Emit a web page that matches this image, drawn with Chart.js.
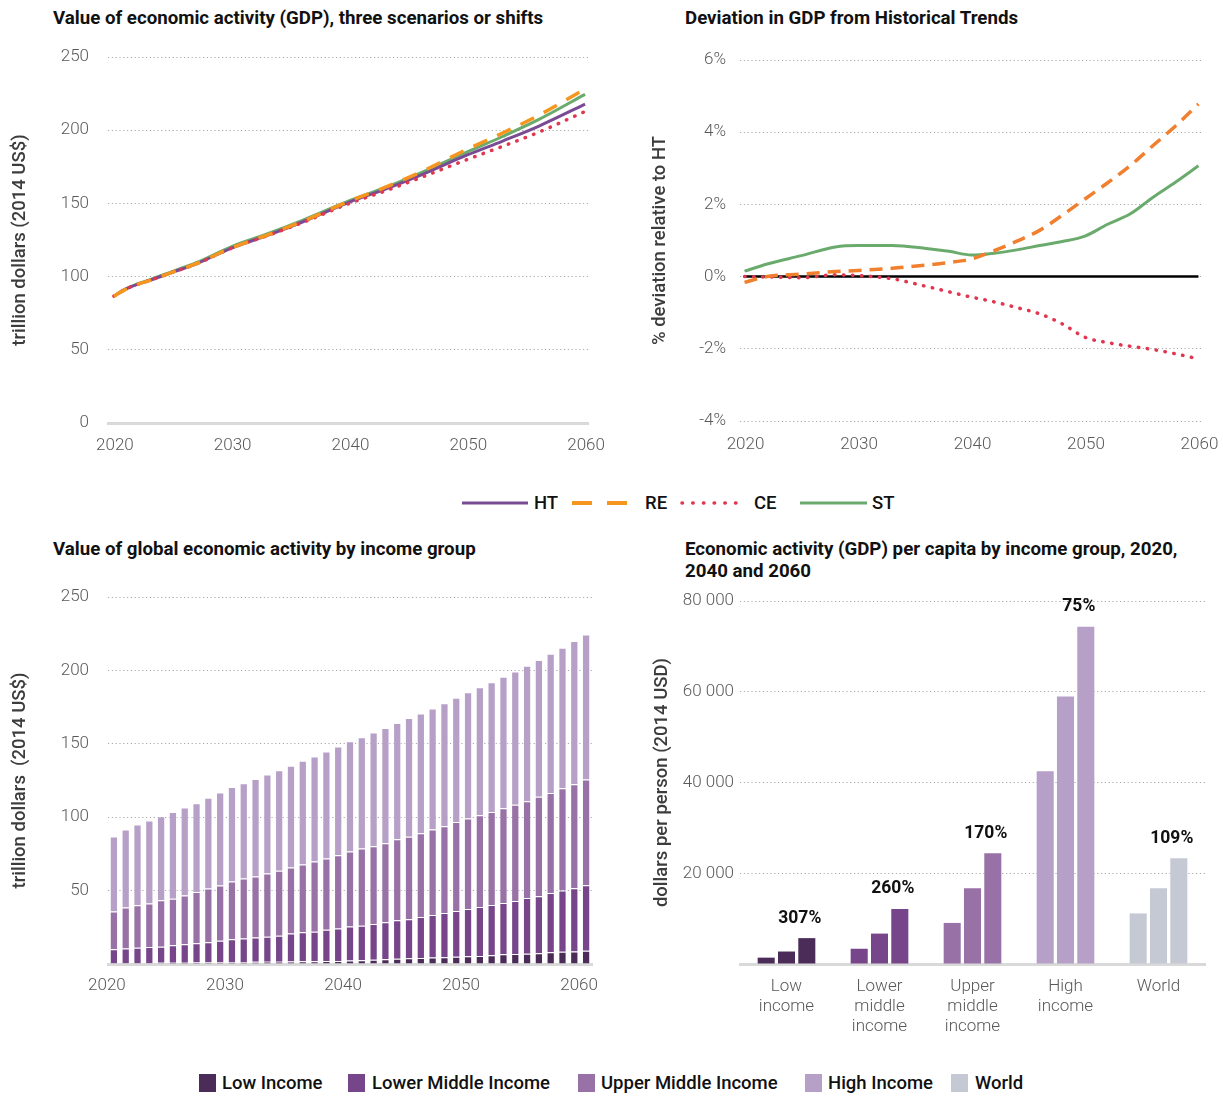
<!DOCTYPE html>
<html><head><meta charset="utf-8">
<script src="https://cdn.jsdelivr.net/npm/chart.js@4.4.1/dist/chart.umd.min.js"></script>
<style>
body{margin:0;width:1223px;height:1097px;background:#fff;position:relative;overflow:hidden;font-family:Roboto,"Noto Sans",sans-serif}
.box{position:absolute}
.title{position:absolute;font-weight:700;font-size:18.7px;line-height:22px;color:#111;white-space:nowrap}
.leg{position:absolute;font-size:18.5px;font-weight:500;color:#111;white-space:nowrap;line-height:20px}
.sq{position:absolute;width:17px;height:18px}
</style></head>
<body>
<div class="title" style="left:53px;top:7px">Value of economic activity (GDP), three scenarios or shifts</div>
<div class="title" style="left:685px;top:7px">Deviation in GDP from Historical Trends</div>
<div class="title" style="left:53px;top:538px">Value of global economic activity by income group</div>
<div class="title" style="left:685px;top:538px">Economic activity (GDP) per capita by income group, 2020,<br>2040 and 2060</div>

<div class="box" style="left:0;top:31px;width:610px;height:440px"><canvas id="c1" width="610" height="440"></canvas></div>
<div class="box" style="left:630px;top:30px;width:593px;height:440px"><canvas id="c2" width="593" height="440"></canvas></div>
<div class="box" style="left:0;top:576px;width:610px;height:440px"><canvas id="c3" width="610" height="440"></canvas></div>
<div class="box" style="left:630px;top:580px;width:593px;height:470px"><canvas id="c4" width="593" height="470"></canvas></div>

<svg class="box" style="left:0;top:490px" width="1223" height="26">
  <line x1="462" y1="13" x2="528" y2="13" stroke="#7a4b95" stroke-width="3"/>
  <line x1="572" y1="13" x2="628" y2="13" stroke="#f7961f" stroke-width="4" stroke-dasharray="20 15"/>
  <line x1="682" y1="13" x2="746" y2="13" stroke="#e0364f" stroke-width="3.5" stroke-dasharray="0.5 10.2" stroke-linecap="round"/>
  <line x1="800" y1="13" x2="867" y2="13" stroke="#6aab6d" stroke-width="3"/>
</svg>
<div class="leg" style="left:534px;top:493px">HT</div>
<div class="leg" style="left:645px;top:493px">RE</div>
<div class="leg" style="left:754px;top:493px">CE</div>
<div class="leg" style="left:872px;top:493px">ST</div>

<div class="sq" style="left:199px;top:1074px;background:#4b2c58"></div><div class="leg" style="left:222px;top:1073px">Low Income</div>
<div class="sq" style="left:348px;top:1074px;background:#76458a"></div><div class="leg" style="left:372px;top:1073px">Lower Middle Income</div>
<div class="sq" style="left:578px;top:1074px;background:#9872a6"></div><div class="leg" style="left:601px;top:1073px">Upper Middle Income</div>
<div class="sq" style="left:805px;top:1074px;background:#b7a0c7"></div><div class="leg" style="left:828px;top:1073px">High Income</div>
<div class="sq" style="left:951px;top:1074px;background:#c5c9d3"></div><div class="leg" style="left:975px;top:1073px">World</div>

<script>
// ---------- Panel 1: GDP by scenario (trillion 2014 US$) ----------
const lineYears = [2020,2021,2022,2023,2025,2027,2030,2033,2036,2040,2043,2046,2050,2053,2056,2060];
const gdpHT = [86.7,91.4,94.7,97.3,103.0,108.7,119.5,128.0,137.3,150.9,159.6,169.2,183.1,192.6,202.5,217.8];
const gdpRE = [86.6,91.3,94.7,97.3,103.1,108.8,119.7,128.3,137.7,151.6,160.9,171.2,187.0,198.1,209.9,228.2];
const gdpCE = [86.7,91.4,94.7,97.3,103.0,108.7,119.5,127.9,136.9,150.0,158.4,167.5,180.0,189.0,198.4,212.8];
const gdpST = [86.8,91.6,95.0,97.7,103.6,109.5,120.5,129.1,138.4,151.8,160.7,170.7,185.2,195.7,207.0,224.5];
const gdpTicks = [0,50,100,150,200,250];
const yearTicks = [2020,2030,2040,2050,2060];

// ---------- Panel 2: deviation from HT (%) ----------
const devYears = [2020,2022,2025,2028,2030,2033,2036,2038,2040,2042,2044,2046,2048,2050,2052,2054,2056,2058,2060];
const devHT = [0,0,0,0,0,0,0,0,0,0,0,0,0,0,0,0,0,0,0];
const devRE = [-0.16,0.0,0.07,0.14,0.17,0.23,0.32,0.39,0.49,0.72,0.98,1.28,1.70,2.15,2.60,3.08,3.63,4.18,4.78];
const devCE = [0.0,-0.01,-0.03,0.05,0.03,-0.06,-0.27,-0.42,-0.57,-0.70,-0.86,-1.03,-1.31,-1.68,-1.83,-1.93,-2.02,-2.14,-2.28];
const devST = [0.15,0.35,0.58,0.82,0.86,0.86,0.78,0.70,0.60,0.65,0.74,0.86,0.97,1.12,1.45,1.74,2.20,2.62,3.07];
const devTicks = [-4,-2,0,2,4,6];

// ---------- Panel 3: GDP by income group (trillion 2014 US$) ----------
const barYears = ['2020','2021','2022','2023','2024','2025','2026','2027','2028','2029','2030','2031','2032','2033','2034','2035','2036','2037','2038','2039','2040','2041','2042','2043','2044','2045','2046','2047','2048','2049','2050','2051','2052','2053','2054','2055','2056','2057','2058','2059','2060'];
const lowInc   = [0.6,0.6,0.7,0.7,0.8,0.9,0.9,1.0,1.1,1.2,1.3,1.4,1.5,1.6,1.6,1.7,1.8,1.9,2.0,2.1,2.3,2.6,2.9,3.3,3.6,3.9,4.1,4.5,4.6,5.0,5.2,5.5,5.9,6.6,6.8,7.0,7.3,8.0,8.4,8.6,9.1];
const lowerMid = [9.4,9.9,10.4,10.9,11.0,11.8,12.5,13.1,13.7,14.7,15.5,15.9,16.5,17.0,17.7,19.0,19.8,20.1,21.4,22.0,23.2,23.5,24.4,25.1,26.2,26.6,27.9,28.9,30.2,31.1,32.3,33.4,34.3,35.0,36.2,38.0,38.8,40.4,41.6,43.0,44.5];
const upperMid = [25.8,28.0,28.9,29.6,31.6,31.8,33.3,34.9,36.7,37.6,39.4,40.9,41.6,43.1,44.3,45.1,46.1,47.8,48.4,50.0,51.1,52.5,52.9,53.9,55.2,56.1,57.1,58.2,59.1,60.7,61.6,62.5,63.4,64.5,65.4,65.9,67.8,68.0,69.8,70.9,72.1];
const highInc  = [51.0,53.1,55.0,56.5,57.3,59.1,59.9,60.5,61.7,63.3,64.3,65.0,66.5,67.4,68.4,69.2,70.7,71.6,73.0,74.1,75.2,75.9,77.5,78.4,79.1,80.9,81.6,82.5,83.8,84.6,86.1,87.2,88.4,89.6,90.9,92.3,93.1,95.0,95.7,97.5,98.8];

// ---------- Panel 4: GDP per capita (2014 USD) ----------
const groups = [['Low','income'],['Lower','middle','income'],['Upper','middle','income'],['High','income'],['World']];
const pc2020 = [1400,3360,9050,42460,11150];
const pc2040 = [2750,6700,16720,58960,16720];
const pc2060 = [5700,12100,24430,74300,23300];
const pcGrowth = ['307%','260%','170%','75%','109%'];
const pcTicks = [0,20000,40000,60000,80000];

const groupColors = ['#4b2c58','#76458a','#9872a6','#b7a0c7','#c5c9d3'];

Chart.defaults.font.family = 'Roboto, "Noto Sans", sans-serif';
Chart.defaults.animation = false;
Chart.defaults.plugins.legend.display = false;
Chart.defaults.plugins.tooltip.enabled = false;

const tickFont = {size:17, weight:'300'};
const tickColor = '#595959';
const axisTitleFont = {size:18.5, weight:'500', lineHeight:1.2};
const axisTitleColor = '#3c3c3c';
const gridDots = [1.2,2.6];
const gridColor = '#a8a8a8';

function pts(xs, ys){ return xs.map((x,i)=>({x:x, y:ys[i]})); }
function fixTicks(list){ return function(scale){ scale.ticks = list.map(v=>({value:v})); }; }
function fitX(h){ return function(s){ s.height=h; s.paddingLeft=0; s.paddingRight=0; }; }
function fitY(w){ return function(s){ s.width=w; s.paddingTop=0; s.paddingBottom=0; }; }

// Panel 1
new Chart(document.getElementById('c1'), {
  type:'line',
  data:{datasets:[
    {label:'RE', data:pts(lineYears,gdpRE), borderColor:'#f7961f', borderWidth:3.5, borderDash:[15,11]},
    {label:'CE', data:pts(lineYears,gdpCE), borderColor:'#e0364f', borderWidth:3.5, borderDash:[0.5,8.5], borderCapStyle:'round'},
    {label:'HT', data:pts(lineYears,gdpHT), borderColor:'#7a4b95', borderWidth:3},
    {label:'ST', data:pts(lineYears,gdpST), borderColor:'#6aab6d', borderWidth:3}
  ]},
  options:{
    responsive:false, devicePixelRatio:1,
    elements:{point:{radius:0}, line:{tension:0.35, cubicInterpolationMode:'monotone'}},
    layout:{padding:{top:26,right:22,left:0,bottom:0}},
    scales:{
      x:{type:'linear', min:2019.5, max:2060.25, afterBuildTicks:fixTicks(yearTicks),
         afterFit:fitX(48),
         grid:{display:false, drawTicks:false},
         border:{display:true, color:'#d9d9d9', width:3},
         ticks:{font:tickFont, color:tickColor, padding:13, labelOffset:1, callback:v=>String(v)}},
      y:{min:0, max:250, afterBuildTicks:fixTicks(gdpTicks),
         afterFit:fitY(108),
         border:{display:false, dash:gridDots},
         grid:{drawTicks:false, color:c=>c.tick.value===0?'rgba(0,0,0,0)':gridColor, lineWidth:1},
         ticks:{font:tickFont, color:tickColor, padding:19},
         title:{display:true, text:'trillion dollars (2014 US$)', font:axisTitleFont, color:axisTitleColor, padding:{top:9,bottom:0}}}
    }
  }
});

// Panel 2
new Chart(document.getElementById('c2'), {
  type:'line',
  data:{datasets:[
    {label:'RE', data:pts(devYears,devRE), borderColor:'#f07f2e', borderWidth:3.5, borderDash:[13,8]},
    {label:'ST', data:pts(devYears,devST), borderColor:'#6aab6d', borderWidth:3},
    {label:'CE', data:pts(devYears,devCE), borderColor:'#e0364f', borderWidth:3.5, borderDash:[0.5,8.5], borderCapStyle:'round'},
    {label:'HT', data:pts(devYears,devHT), borderColor:'#000000', borderWidth:2.5}
  ]},
  options:{
    responsive:false, devicePixelRatio:1,
    elements:{point:{radius:0}, line:{tension:0.35, cubicInterpolationMode:'monotone'}},
    layout:{padding:{top:30,right:20,left:0,bottom:0}},
    scales:{
      x:{type:'linear', min:2019.6, max:2060.4, afterBuildTicks:fixTicks(yearTicks),
         afterFit:fitX(49),
         grid:{display:false, drawTicks:false},
         border:{display:false},
         ticks:{font:tickFont, color:tickColor, padding:14, labelOffset:1, callback:v=>String(v)}},
      y:{min:-4, max:6, afterBuildTicks:fixTicks(devTicks),
         afterFit:fitY(110),
         border:{display:false, dash:gridDots},
         grid:{drawTicks:false, color:gridColor, lineWidth:1},
         ticks:{font:tickFont, color:tickColor, padding:14, callback:v=>v+'%'},
         title:{display:true, text:'% deviation relative to HT', font:axisTitleFont, color:axisTitleColor, padding:{top:19,bottom:0}}}
    }
  }
});

// Panel 3
const barBorder = 'rgba(255,255,255,0.55)';
new Chart(document.getElementById('c3'), {
  type:'bar',
  data:{labels:barYears, datasets:[
    {label:'Low Income', data:lowInc, backgroundColor:groupColors[0]},
    {label:'Lower Middle Income', data:lowerMid, backgroundColor:groupColors[1]},
    {label:'Upper Middle Income', data:upperMid, backgroundColor:groupColors[2]},
    {label:'High Income', data:highInc, backgroundColor:groupColors[3]}
  ]},
  options:{
    responsive:false, devicePixelRatio:1,
    datasets:{bar:{categoryPercentage:1, barPercentage:0.7, borderColor:barBorder, borderWidth:1}},
    layout:{padding:{top:21,right:18,left:0,bottom:0}},
    scales:{
      x:{stacked:true, afterFit:fitX(52),
         grid:{display:false, drawTicks:false},
         border:{display:true, color:'#d9d9d9', width:3},
         ticks:{font:tickFont, color:tickColor, padding:12, autoSkip:false, maxRotation:0, labelOffset:-7,
                callback:function(v,i){ return i%10===0 ? this.getLabelForValue(v) : ''; }}},
      y:{stacked:true, min:0, max:250, afterBuildTicks:fixTicks(gdpTicks),
         afterFit:fitY(108),
         border:{display:false, dash:gridDots},
         grid:{drawTicks:false, color:c=>c.tick.value===0?'rgba(0,0,0,0)':gridColor, lineWidth:1},
         ticks:{font:tickFont, color:tickColor, padding:19, callback:v=>v===0?'':String(v)},
         title:{display:true, text:'trillion dollars  (2014 US$)', font:axisTitleFont, color:axisTitleColor, padding:{top:9,bottom:0}}}
    }
  }
});

// Panel 4
const growthLabels = {
  id:'growthLabels',
  afterDatasetsDraw(chart){
    const meta = chart.getDatasetMeta(2);
    const ctx = chart.ctx;
    ctx.save();
    ctx.font = 'bold 17.5px Roboto, "Noto Sans", sans-serif';
    ctx.fillStyle = '#111';
    ctx.textAlign = 'center';
    ctx.textBaseline = 'middle';
    meta.data.forEach((bar,i)=>{ ctx.fillText(pcGrowth[i], bar.x-7, bar.y-20); });
    ctx.restore();
  }
};
new Chart(document.getElementById('c4'), {
  type:'bar',
  data:{labels:groups, datasets:[
    {label:'2020', data:pc2020, backgroundColor:groupColors},
    {label:'2040', data:pc2040, backgroundColor:groupColors},
    {label:'2060', data:pc2060, backgroundColor:groupColors}
  ]},
  options:{
    responsive:false, devicePixelRatio:1,
    datasets:{bar:{categoryPercentage:0.655, barPercentage:0.84}},
    layout:{padding:{top:21,right:18,left:0,bottom:0}},
    scales:{
      x:{afterFit:fitX(86),
         grid:{display:false, drawTicks:false},
         border:{display:true, color:'#d9d9d9', width:3},
         ticks:{font:{size:17, weight:'300', lineHeight:1.18}, color:tickColor, padding:13, maxRotation:0, autoSkip:false}},
      y:{min:0, max:80000, afterBuildTicks:fixTicks(pcTicks),
         afterFit:fitY(110),
         border:{display:false, dash:gridDots},
         grid:{drawTicks:false, color:c=>c.tick.value===0?'rgba(0,0,0,0)':gridColor, lineWidth:1},
         ticks:{font:tickFont, color:tickColor, padding:6,
                callback:v=>v===0?'':String(v).replace(/\B(?=(\d{3})+(?!\d))/g,' ')},
         title:{display:true, text:'dollars per person (2014 USD)', font:axisTitleFont, color:axisTitleColor, padding:{top:21,bottom:0}}}
    }
  },
  plugins:[growthLabels]
});
</script>
</body></html>
